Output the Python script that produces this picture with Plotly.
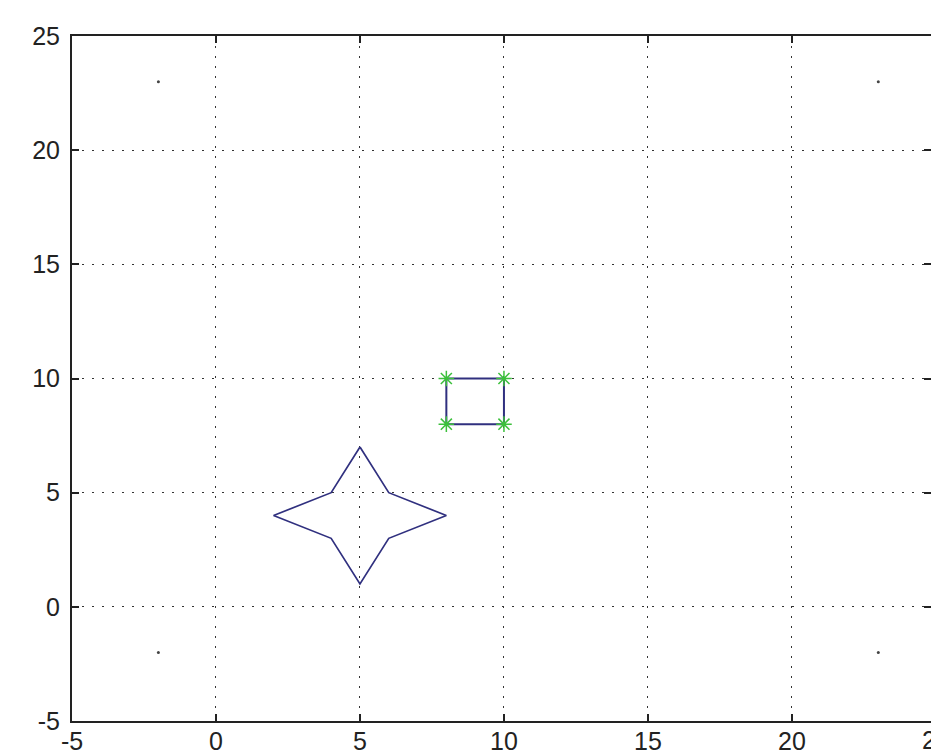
import plotly.graph_objects as go

# Star polygon (closed)
star_x = [5, 6, 8, 6, 5, 4, 2, 4, 5]
star_y = [7, 5, 4, 3, 1, 3, 4, 5, 7]

# Rectangle (closed) with corner markers
rect_x = [8, 10, 10, 8, 8]
rect_y = [8, 8, 10, 10, 8]
corner_x = [8, 10, 10, 8]
corner_y = [8, 8, 10, 10]

# Small dots near the plot corners
dot_x = [-2, -2, 23, 23]
dot_y = [-2, 23, 23, -2]

tick_vals = [-5, 0, 5, 10, 15, 20, 25]
tick_text = ["-5", "0", "5", "10", "15", "20", "25"]

x_range = [-5, 24.83]
y_range = [-5, 25]

FONT = dict(family="Liberation Sans, Arial, sans-serif", size=25, color="#222222")

fig = go.Figure()
fig.add_trace(go.Scatter(x=star_x, y=star_y, mode="lines",
                         line=dict(color="#30307f", width=1.7), showlegend=False))
fig.add_trace(go.Scatter(x=rect_x, y=rect_y, mode="lines",
                         line=dict(color="#30307f", width=2), showlegend=False))
fig.add_trace(go.Scatter(x=corner_x, y=corner_y, mode="markers",
                         marker=dict(symbol="asterisk-open", size=13, color="#3cc03c",
                                     line=dict(color="#3cc03c", width=1.5)),
                         showlegend=False))
fig.add_trace(go.Scatter(x=dot_x, y=dot_y, mode="markers",
                         marker=dict(color="#444444", size=3), showlegend=False))

axis_common = dict(
    showline=True, linecolor="#222222", linewidth=2, mirror="ticks",
    ticks="inside", ticklen=7, tickwidth=2, tickcolor="#222222",
    showgrid=True, gridcolor="#333333", gridwidth=1, griddash="2px,8px",
    zeroline=False, tickvals=tick_vals, ticktext=tick_text,
    tickfont=FONT, automargin=False,
)

fig.update_layout(
    width=931, height=750,
    margin=dict(l=72, r=0, t=36, b=29, autoexpand=False),
    paper_bgcolor="white", plot_bgcolor="white",
    xaxis=dict(range=x_range, ticklabelstandoff=-3, **axis_common),
    yaxis=dict(range=y_range, ticklabelstandoff=5, **axis_common),
    annotations=[dict(
        text="25", xref="paper", yref="paper",
        x=(25 - x_range[0]) / (x_range[1] - x_range[0]), y=0,
        xanchor="center", yanchor="top", yshift=-3, showarrow=False,
        font=FONT,
    )],
)

fig.write_html(
    "out.html",
    config={"displayModeBar": False},
    post_script=(
        "document.body.style.margin='0';"
        "document.body.style.fontSize='0';"
        "document.body.style.lineHeight='0';"
        "document.body.style.overflow='hidden';"
        "document.documentElement.style.overflow='hidden';"
    ),
)
